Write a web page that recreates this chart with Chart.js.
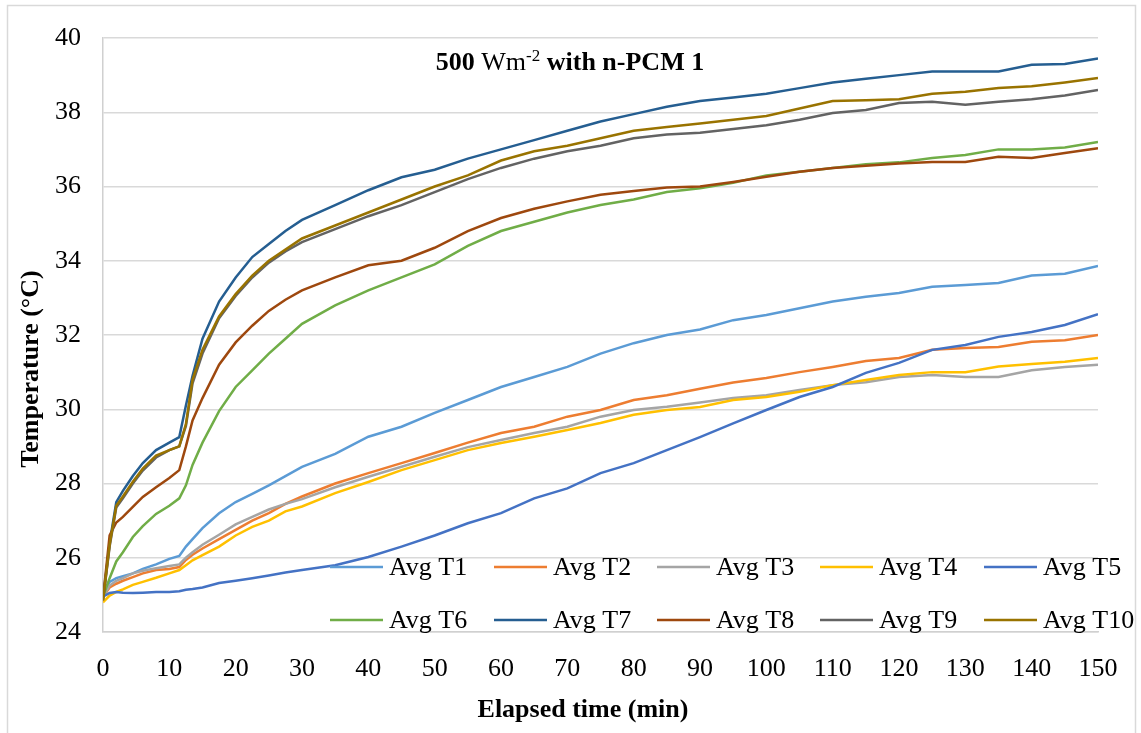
<!DOCTYPE html>
<html lang="en">
<head>
  <meta charset="UTF-8" />
  <title>Avg temperatures - 500 Wm-2 with n-PCM 1</title>
  <script src="https://cdn.jsdelivr.net/npm/chart.js"></script>
  <style>
    body { margin: 0; background: #fff; }
    #wrap { width: 1141px; height: 733px; }
  </style>
</head>
<body>
  <div id="wrap"><canvas id="tempChart" width="1141" height="733"></canvas></div>

  <script>
    // elapsed time (min)
    const minutes = [0, 1, 2, 3, 4.5, 6, 8, 10, 11.5, 12.5, 13.5, 15, 17.5, 20, 22.5, 25, 27.5, 30,
      35, 40, 45, 50, 55, 60, 65, 70, 75, 80, 85, 90, 95, 100, 105, 110, 115, 120, 125, 130, 135, 140, 145, 150];

    // average temperatures (°C)
    const avgT1 = [25.05, 25.35, 25.45, 25.5, 25.58, 25.7, 25.82, 25.97, 26.05, 26.3, 26.5, 26.8, 27.2, 27.5, 27.72, 27.95, 28.2, 28.45,
      28.8, 29.26, 29.53, 29.9, 30.25, 30.6, 30.87, 31.14, 31.5, 31.78, 32.0, 32.15, 32.4, 32.54, 32.72, 32.9, 33.03, 33.13, 33.3, 33.35, 33.4, 33.6, 33.65, 33.86];
    const avgT2 = [24.95, 25.2, 25.3, 25.38, 25.48, 25.58, 25.67, 25.7, 25.75, 25.94, 26.08, 26.25, 26.5, 26.75, 27.0, 27.2, 27.45, 27.65,
      28.0, 28.28, 28.55, 28.82, 29.1, 29.36, 29.53, 29.8, 29.98, 30.25, 30.38, 30.55, 30.72, 30.84, 31.0, 31.14, 31.3, 31.38, 31.6, 31.65, 31.68, 31.82, 31.86, 32.0];
    const avgT3 = [24.95, 25.25, 25.38, 25.45, 25.58, 25.65, 25.72, 25.78, 25.82, 26.0, 26.15, 26.35, 26.62, 26.9, 27.1, 27.3, 27.45, 27.58,
      27.9, 28.18, 28.45, 28.72, 28.98, 29.17, 29.36, 29.53, 29.8, 29.98, 30.07, 30.18, 30.3, 30.38, 30.52, 30.65, 30.73, 30.87, 30.92, 30.87, 30.87, 31.05, 31.14, 31.2];
    const avgT4 = [24.8, 24.98, 25.08, 25.15, 25.27, 25.35, 25.46, 25.58, 25.67, 25.8, 25.93, 26.07, 26.3, 26.6, 26.83, 27.0, 27.25, 27.38,
      27.74, 28.04, 28.36, 28.63, 28.9, 29.09, 29.26, 29.44, 29.63, 29.85, 29.98, 30.06, 30.25, 30.33, 30.47, 30.65, 30.79, 30.92, 31.0, 31.0, 31.15, 31.22, 31.28, 31.38];
    const avgT5 = [24.95, 25.05, 25.08, 25.06, 25.05, 25.06, 25.08, 25.08, 25.1, 25.14, 25.16, 25.2, 25.32, 25.38, 25.45, 25.52, 25.6, 25.67,
      25.8, 26.02, 26.3, 26.6, 26.93, 27.2, 27.6, 27.87, 28.28, 28.55, 28.9, 29.25, 29.62, 29.98, 30.33, 30.6, 30.98, 31.25, 31.6, 31.73, 31.95, 32.08, 32.27, 32.56];
    const avgT6 = [24.95, 25.45, 25.9, 26.15, 26.56, 26.85, 27.18, 27.4, 27.6, 27.95, 28.5, 29.1, 29.95, 30.6, 31.05, 31.5, 31.9, 32.3,
      32.8, 33.2, 33.55, 33.9, 34.4, 34.8, 35.05, 35.3, 35.5, 35.65, 35.85, 35.95, 36.1, 36.3, 36.4, 36.5, 36.6, 36.65, 36.77, 36.85, 37.0, 37.0, 37.05, 37.2];
    const avgT7 = [24.9, 26.4, 27.5, 27.8, 28.2, 28.55, 28.9, 29.1, 29.25, 30.1, 30.9, 31.9, 32.9, 33.55, 34.1, 34.45, 34.8, 35.1,
      35.5, 35.9, 36.25, 36.45, 36.75, 37.0, 37.25, 37.5, 37.75, 37.95, 38.15, 38.3, 38.4, 38.5, 38.65, 38.8, 38.9, 39.0, 39.1, 39.1, 39.1, 39.28, 39.3, 39.45];
    const avgT8 = [24.9, 26.6, 26.95, 27.1, 27.37, 27.64, 27.9, 28.15, 28.36, 29.0, 29.7, 30.3, 31.2, 31.8, 32.25, 32.65, 32.95, 33.2,
      33.55, 33.88, 34.0, 34.35, 34.8, 35.15, 35.4, 35.6, 35.78, 35.88, 35.97, 36.0, 36.12, 36.26, 36.4, 36.5, 36.56, 36.62, 36.66, 36.66, 36.8, 36.77, 36.9, 37.03];
    const avgT9 = [24.85, 26.3, 27.35, 27.6, 28.0, 28.35, 28.7, 28.9, 29.0, 29.55, 30.7, 31.5, 32.45, 33.05, 33.55, 33.95, 34.25, 34.5,
      34.85, 35.2, 35.5, 35.85, 36.2, 36.5, 36.75, 36.95, 37.1, 37.3, 37.4, 37.45, 37.55, 37.65, 37.8, 37.98, 38.06, 38.25, 38.28, 38.2, 38.28, 38.35, 38.45, 38.6];
    const avgT10 = [24.85, 26.35, 27.4, 27.65, 28.05, 28.4, 28.75, 28.9, 29.0, 29.6, 30.8, 31.6, 32.5, 33.1, 33.6, 34.0, 34.3, 34.6,
      34.95, 35.3, 35.65, 36.0, 36.3, 36.7, 36.95, 37.1, 37.3, 37.5, 37.6, 37.7, 37.8, 37.9, 38.1, 38.3, 38.32, 38.35, 38.5, 38.55, 38.65, 38.7, 38.8, 38.92];

    const seriesNames = ['Avg T1', 'Avg T2', 'Avg T3', 'Avg T4', 'Avg T5', 'Avg T6', 'Avg T7', 'Avg T8', 'Avg T9', 'Avg T10'];
    const seriesValues = [avgT1, avgT2, avgT3, avgT4, avgT5, avgT6, avgT7, avgT8, avgT9, avgT10];
    const seriesColors = ['#5B9BD5', '#ED7D31', '#A5A5A5', '#FFC000', '#4472C4', '#70AD47', '#255E91', '#9E480E', '#636363', '#997300'];

    const FONT = "'Liberation Serif', 'Times New Roman', serif";

    // white page + thin grey frame around the whole figure
    const framePlugin = {
      id: 'frame',
      beforeDraw(chart) {
        const ctx = chart.ctx;
        ctx.save();
        ctx.fillStyle = '#fff';
        ctx.fillRect(0, 0, chart.width, chart.height);
        ctx.strokeStyle = '#D9D9D9';
        ctx.lineWidth = 1.5;
        ctx.strokeRect(7.5, 5.5, 1128, 740);
        ctx.restore();
      }
    };

    // chart title (mixed bold / regular with superscript) and axis titles
    const textPlugin = {
      id: 'texts',
      afterDraw(chart) {
        const ctx = chart.ctx;
        const area = chart.chartArea;
        ctx.save();
        ctx.fillStyle = '#000';
        ctx.textBaseline = 'alphabetic';
        ctx.textAlign = 'left';

        const parts = [
          { t: '500 ', f: 'bold 26px ' + FONT, dy: 0 },
          { t: 'Wm', f: '26px ' + FONT, dy: 0 },
          { t: '-2', f: '17px ' + FONT, dy: -9 },
          { t: ' with n-PCM 1', f: 'bold 26px ' + FONT, dy: 0 }
        ];
        let total = 0;
        parts.forEach(p => { ctx.font = p.f; p.w = ctx.measureText(p.t).width; total += p.w; });
        let x = area.left + 467 - total / 2;
        const base = 70;
        parts.forEach(p => {
          ctx.font = p.f;
          ctx.fillText(p.t, x, base + p.dy);
          x += p.w;
        });

        ctx.font = 'bold 26px ' + FONT;
        ctx.textAlign = 'center';
        ctx.textBaseline = 'middle';
        ctx.fillText('Elapsed time (min)', area.left + 480, 710);

        ctx.translate(31, 369);
        ctx.rotate(-Math.PI / 2);
        ctx.fillText('Temperature (°C)', 0, 0);
        ctx.restore();
      }
    };

    // two-row legend sitting inside the bottom of the plot area
    const legendPlugin = {
      id: 'innerLegend',
      afterDatasetsDraw(chart) {
        const ctx = chart.ctx;
        const area = chart.chartArea;
        const colX = [330, 494, 657, 820, 984];
        const rowY = [area.bottom - 65, area.bottom - 12];
        ctx.save();
        ctx.font = '26px ' + FONT;
        ctx.textBaseline = 'middle';
        ctx.textAlign = 'left';
        chart.data.datasets.forEach((ds, i) => {
          const x = colX[i % 5];
          const y = rowY[Math.floor(i / 5)];
          ctx.strokeStyle = ds.borderColor;
          ctx.lineWidth = 2.5;
          ctx.beginPath();
          ctx.moveTo(x, y);
          ctx.lineTo(x + 53, y);
          ctx.stroke();
          ctx.fillStyle = '#000';
          ctx.fillText(ds.label, x + 59, y + 1);
        });
        ctx.restore();
      }
    };

    const datasets = seriesNames.map((name, i) => ({
      label: name,
      data: minutes.map((t, k) => ({ x: t, y: seriesValues[i][k] })),
      borderColor: seriesColors[i],
      backgroundColor: seriesColors[i],
      borderWidth: 2.5,
      pointRadius: 0,
      tension: 0,
      fill: false,
      order: seriesNames.length - i
    }));

    new Chart(document.getElementById('tempChart'), {
      type: 'line',
      data: { datasets },
      options: {
        responsive: false,
        animation: false,
        devicePixelRatio: 1,
        layout: { padding: { top: 38, right: 43, left: 0, bottom: 0 } },
        plugins: {
          legend: { display: false },
          tooltip: { enabled: false },
          title: { display: false }
        },
        scales: {
          x: {
            type: 'linear',
            min: 0,
            max: 150,
            afterFit: s => { s.height = 101; },
            ticks: {
              stepSize: 10,
              autoSkip: false,
              maxRotation: 0,
              padding: 14,
              color: '#000',
              font: { family: FONT, size: 26 }
            },
            grid: { display: false },
            border: { display: true, color: '#D0D0D0', width: 1.5 }
          },
          y: {
            min: 24,
            max: 40,
            afterFit: s => { s.width = 103; },
            ticks: {
              stepSize: 2,
              padding: 22,
              color: '#000',
              font: { family: FONT, size: 26 }
            },
            grid: { color: '#D9D9D9', lineWidth: 1.5, drawTicks: false },
            border: { display: true, color: '#D0D0D0', width: 1.5 }
          }
        }
      },
      plugins: [framePlugin, textPlugin, legendPlugin]
    });
  </script>
</body>
</html>
